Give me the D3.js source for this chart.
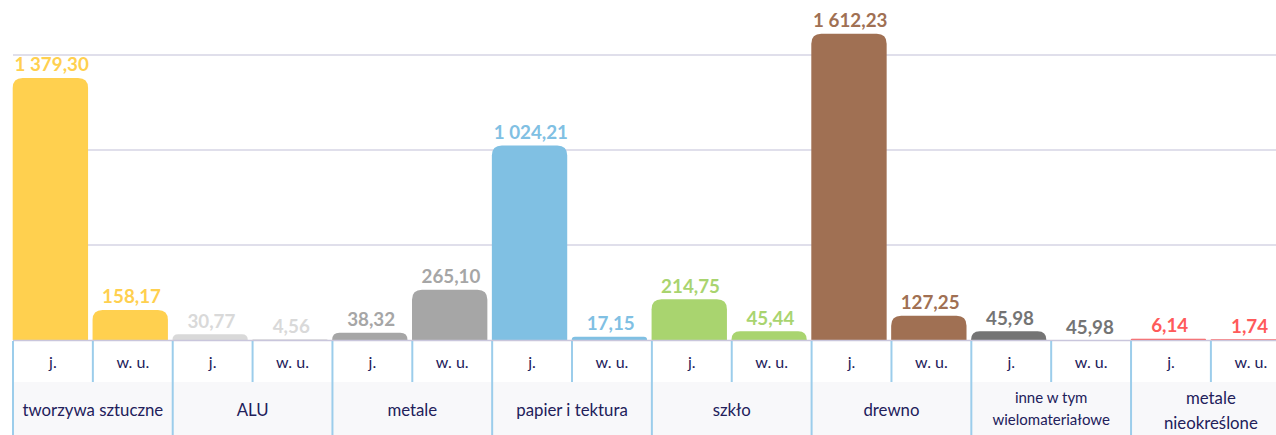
<!DOCTYPE html>
<html>
<head>
<meta charset="utf-8">
<script src="https://cdn.jsdelivr.net/npm/d3@7"></script>
<style>
  body { margin: 0; background: #fff; }
  text { font-family: Lato, "Open Sans", sans-serif; }
</style>
</head>
<body>
<svg width="1276" height="435"></svg>
<script>
'use strict'

// data
const categories = ['tworzywa sztuczne', 'ALU', 'metale', 'papier i tektura', 'szkło', 'drewno', 'inne w tym\nwielomateriałowe', 'metale\nnieokreślone']
const subs = ['j.', 'w. u.']
const valuesJ = [1379.30, 30.77, 38.32, 1024.21, 214.75, 1612.23, 45.98, 6.14]
const valuesWU = [158.17, 4.56, 265.10, 17.15, 45.44, 127.25, 0, 1.74]
const labelsJ = ['1 379,30', '30,77', '38,32', '1 024,21', '214,75', '1 612,23', '45,98', '6,14']
const labelsWU = ['158,17', '4,56', '265,10', '17,15', '45,44', '127,25', '45,98', '1,74']
const gridTicks = [500, 1000, 1500]
const colors = ['#FFD04F', '#D9D9D9', '#A6A6A6', '#80C0E3', '#A9D46F', '#A07053', '#747474', '#FF5A5A']

const svg = d3.select('svg')
const width = +svg.attr('width')
const left = 13
const base = 340
const bandW = 79.86

const bars = []
categories.forEach((c, i) => {
    bars.push({ cat: c, sub: subs[0], v: valuesJ[i], label: labelsJ[i], color: colors[i], key: i * 2 })
    bars.push({ cat: c, sub: subs[1], v: valuesWU[i], label: labelsWU[i], color: colors[i], key: i * 2 + 1 })
})

const x = d3.scaleBand()
    .domain(bars.map(d => d.key))
    .range([left, left + bandW * bars.length])
const y = d3.scaleLinear().domain([0, 1500]).range([base, 55])

// category row background
svg.append('rect')
    .attr('x', left).attr('y', 382)
    .attr('width', width - left).attr('height', 435 - 382)
    .attr('fill', '#F8F8FA')

// grid
svg.append('g')
    .selectAll('line')
    .data(gridTicks)
    .enter()
    .append('line')
    .attr('x1', left).attr('x2', width)
    .attr('y1', d => y(d)).attr('y2', d => y(d))
    .attr('stroke', '#D6D5E4')
    .attr('stroke-width', 1.5)

// bars with rounded tops
const barPath = d => {
    const x0 = x(d.key) - 0.3
    const w = bandW - 4.5
    const h = Math.max(base - y(d.v), 0.8)
    const r = Math.min(10, h, w / 2)
    const top = base - h
    return `M${x0},${base}V${top + r}Q${x0},${top} ${x0 + r},${top}H${x0 + w - r}Q${x0 + w},${top} ${x0 + w},${top + r}V${base}Z`
}

svg.append('g')
    .selectAll('path')
    .data(bars.filter(d => d.v > 0))
    .enter()
    .append('path')
    .attr('d', barPath)
    .attr('fill', d => d.color)

svg.append('g')
    .selectAll('text')
    .data(bars)
    .enter()
    .append('text')
    .attr('x', d => x(d.key) + (bandW - 4.5) / 2 + 1)
    .attr('y', d => y(d.v) - 6.5)
    .attr('text-anchor', 'middle')
    .attr('font-weight', 700)
    .attr('font-size', 18.8)
    .attr('fill', d => d.color)
    .text(d => d.label)

// baseline
svg.append('line')
    .attr('x1', left).attr('x2', width)
    .attr('y1', base + 0.5).attr('y2', base + 0.5)
    .attr('stroke', '#C9C6DC')
    .attr('stroke-width', 1.5)

// table dividers
const edges = d3.range(bars.length + 1)
svg.append('g')
    .selectAll('line')
    .data(edges)
    .enter()
    .append('line')
    .attr('x1', d => left + d * bandW).attr('x2', d => left + d * bandW)
    .attr('y1', base + 1)
    .attr('y2', d => d % 2 === 0 ? 435 : 382)
    .attr('stroke', '#9CCDEB')
    .attr('stroke-width', 2)

svg.append('g')
    .selectAll('text')
    .data(bars)
    .enter()
    .append('text')
    .attr('x', d => x(d.key) + bandW / 2)
    .attr('y', 367.5)
    .attr('text-anchor', 'middle')
    .attr('font-size', 16)
    .attr('fill', '#22205A')
    .text(d => d.sub)

const catText = svg.append('g')
    .selectAll('text')
    .data(categories)
    .enter()
    .append('text')
    .attr('text-anchor', 'middle')
    .attr('fill', '#22205A')

catText.each(function (d, i) {
    const lines = d.split('\n')
    const cx = left + (i * 2 + 1) * bandW
    const t = d3.select(this)
    lines.forEach((ln, j) => {
        t.append('tspan')
            .attr('x', cx)
            .attr('y', lines.length === 1 ? 415.5 : (i === 6 ? 403 : 404) + j * (i === 6 ? 22 : 25))
            .attr('font-size', i === 6 ? 15 : 16.8)
            .text(ln)
    })
})
</script>
</body>
</html>
